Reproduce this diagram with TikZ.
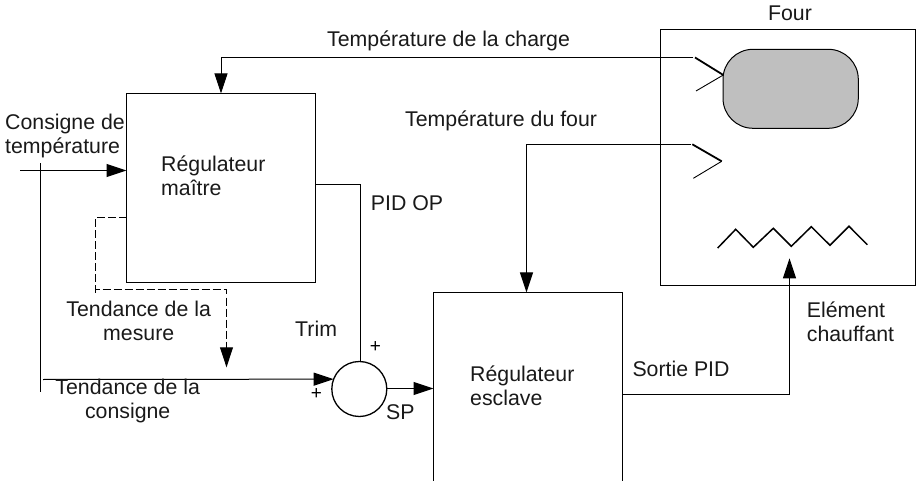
\documentclass[tikz,border=0pt]{standalone}
\usepackage{fontspec}
\setmainfont{Liberation Sans}
\usetikzlibrary{arrows.meta}
\tikzset{
  blocbox/.style={draw, line width=1pt, anchor=north west, inner sep=0pt, outer sep=0pt},
  txt/.style={font=\fontsize{21.3}{24}\selectfont, inner sep=0pt, align=left, text=black!90},
  signe/.style={font=\fontsize{19}{20}\selectfont, inner sep=0pt},
  liaison/.style={line width=1pt},
  fleche/.style={line width=1pt, -{Triangle[length=20pt,width=13pt]}},
}
\begin{document}
\begin{tikzpicture}[x=1pt, y=-1pt]
\useasboundingbox (0,0) rectangle (916,481);
  % Blocks
  \node[blocbox, minimum width=189pt, minimum height=189pt] (maitre) at (126.5,93.5) {};
  \node[blocbox, minimum width=189pt, minimum height=200pt] (esclave) at (433.5,292.5) {};
  \node[blocbox, minimum width=255pt, minimum height=256pt] (four) at (660.5,29.5) {};
  \node[draw, line width=1pt, fill=black!25, rounded corners=30pt, anchor=north west, inner sep=0pt,
    outer sep=0pt, minimum width=135.3pt, minimum height=79pt] (charge) at (723,49.3) {};
  \node[draw, circle, line width=1.3pt, inner sep=0pt, outer sep=0pt, minimum size=55pt] (somme) at (359.3,389) {};
  % Free ends
  \coordinate (entree) at (20,170.5);
  \coordinate (piquage) at (40.5,163.3);
  \coordinate (piqbas) at (40.5,391.7);
  \coordinate (piqdep) at (43,379.5);
  \coordinate (capta) at (693.3,57.5);
  \coordinate (captb) at (691,144.5);
  \coordinate (elem) at (789.5,258.3);
  \coordinate (coudeb) at (526.5,144.5);
  % Sensors
  \draw[line width=1.8pt] (695,57.5) -- (723.3,75);
  \draw[line width=0.9pt] (723.3,75) -- (696,91);
  \draw[line width=1.8pt] (692.3,144.3) -- (721.7,161.3);
  \draw[line width=0.9pt] (721.7,161.3) -- (693.3,178.3);
  % Heating element
  \draw[line width=1.5pt] (717.7,248) -- (735.7,229.3) -- (753.3,247.3) -- (773.3,228.3) -- (791.3,246.3)
    -- (811.3,226.7) -- (830,245.3) -- (849,226.3) -- (867.3,244.7);
  % Connections
  \draw[fleche] (capta) -| (maitre.north);
  \draw[fleche] (captb) -- (coudeb) -- (coudeb |- esclave.north);
  \draw[fleche] (entree) -- (maitre.west |- entree);
  \draw[liaison] (piquage) -- (piqbas);
  \draw[fleche] (piqdep) -- (somme.159);
  \draw[liaison] (maitre.east |- 0,184.5) -- (360.5,184.5) -- (360.5,361.5);
  \draw[fleche] (somme.east |- 0,388.5) -- (esclave.west |- 0,388.5);
  \draw[fleche] (esclave.east |- 0,394.5) -| (elem);
  \draw[fleche, dash pattern=on 8pt off 3pt] (maitre.west |- 0,217.5) -- (95.5,217.5) -- (95.5,289.5)
    -- (226.5,289.5) -- (226.5,367.3);
  \draw[liaison, dash pattern=on 3pt off 3pt] (95.5,289.5) -- (95.5,293);
  % Labels
  \node[txt, anchor=base] (lfour) at (790,20.7) {Four};
  \node[txt, anchor=base west] (lcharge) at (327,46.7) {Température de la charge};
  \node[txt, anchor=base west] (lfourt) at (405,126.7) {Température du four};
  \node[txt, anchor=west] (lconsigne) at (5,136) {Consigne de\\température};
  \node[txt, anchor=west] (lmaitre) at (161,176) {Régulateur\\maître};
  \node[txt, anchor=base west] (lpid) at (370.7,210.7) {PID OP};
  \node[txt, align=center] (lmesure) at (138.7,321) {Tendance de la\\mesure};
  \node[txt, anchor=base west] (ltrim) at (295,336.7) {Trim};
  \node[txt, align=center] (ltend) at (127.7,401) {Tendance de la\\consigne};
  \node[txt, anchor=base west] (lsp) at (386,419.3) {SP};
  \node[txt, anchor=west] (lesclave) at (470,386) {Régulateur\\esclave};
  \node[txt, anchor=base west] (lsortie) at (632.3,376.7) {Sortie PID};
  \node[txt, anchor=west] (lelem) at (806.7,322) {Elément\\chauffant};
  \node[signe] (plusa) at (375.3,347) {+};
  \node[signe] (plusb) at (316.3,394.3) {+};
\end{tikzpicture}
\end{document}
